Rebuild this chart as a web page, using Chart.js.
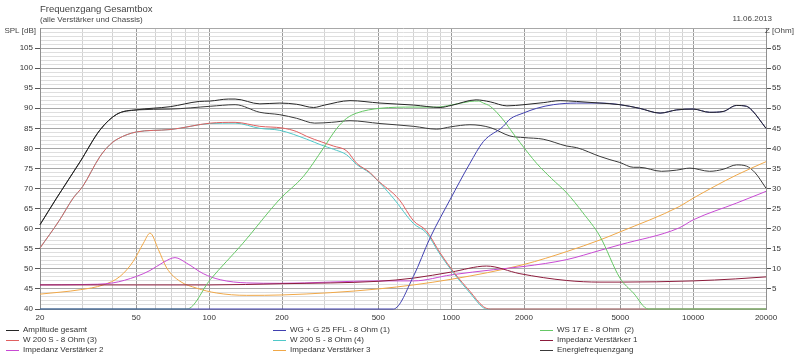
<!DOCTYPE html>
<html>
<head>
<meta charset="utf-8">
<script src="https://cdn.jsdelivr.net/npm/chart.js@4.4.1/dist/chart.umd.min.js"></script>
<style>
  html, body { margin: 0; padding: 0; background: #fff; }
</style>
</head>
<body>
<canvas id="chart" width="800" height="357"></canvas>
<script>
// --- Achsen ---
const freqTicks = [20, 30, 40, 50, 60, 70, 80, 90, 100, 200, 300, 400, 500, 600, 700, 800, 900,
  1000, 2000, 3000, 4000, 5000, 6000, 7000, 8000, 9000, 10000, 20000];
const freqLabels = [20, 50, 100, 200, 500, 1000, 2000, 5000, 10000, 20000];
const splLabels = [40, 45, 50, 55, 60, 65, 70, 75, 80, 85, 90, 95, 100, 105];
const ohmLabels = [5, 10, 15, 20, 25, 30, 35, 40, 45, 50, 55, 60, 65];

// --- Messkurven (Frequenz in Hz, Pegel in dB bzw. Ohm+40 auf der linken Skala) ---
const ampFreq = [20, 23.4, 29.3, 35.4, 41.5, 50, 69, 91, 101, 120, 128, 162, 196, 230, 270, 300, 382, 508, 700, 900,
  1000, 1268, 1450, 1700, 2000, 2400, 2820, 3300, 4120, 4980, 6000, 7300, 8550, 10000, 11700, 13300, 15100, 16600, 17500, 20000];
const ampDb = [61, 67.6, 76.7, 84.6, 88.5, 89.6, 90.4, 91.7, 91.8, 92.3, 92.3, 91.1, 91.3, 91, 90.2, 90.8, 91.9, 91.3, 90.8, 90.2,
  90.7, 92.1, 91.6, 90.6, 90.9, 91.4, 91.9, 91.7, 91.3, 90.9, 90, 88.8, 89.6, 89.8, 89, 89.2, 90.7, 90.5, 89.5, 85];

const wgFreq = [20, 577, 698, 818, 989, 1196, 1358, 1642, 1750, 1986, 2258, 2644, 3303, 4120, 4980, 6000, 7300, 8550, 10000, 11700, 13300, 15100, 16600, 17500, 20000];
const wgDb = [40, 40, 48.1, 57.7, 67.2, 76.3, 81.7, 85.5, 87.3, 88.8, 90, 90.9, 91.3, 91.3, 90.9, 90, 88.8, 89.6, 89.8, 89, 89.2, 90.7, 90.5, 89.5, 85];

const wsFreq = [20, 81, 101, 138, 196, 245, 296, 337, 370, 407, 508, 700, 871, 1000, 1196, 1300, 1358, 1450, 1642, 1801, 1924, 2254, 2600, 3005, 3500, 4120, 4984, 5662, 6530, 20000];
const wsDb = [40, 40, 47.3, 56.4, 67.4, 73, 80, 85, 87.5, 88.8, 90, 90.3, 90.3, 90.8, 91.7, 91.8, 91.3, 90.5, 87.1, 83.8, 81.5, 76.3, 72.5, 68.9, 64, 58.1, 47.7, 44, 40, 40];

const w3Freq = [20, 24, 27.4, 30, 35.4, 39, 42, 50, 69, 101, 128, 162, 200, 230, 253, 292, 326, 370, 407, 462, 494, 611, 698, 789, 900, 1031, 1196, 1358, 1450, 20000];
const w3Db = [55.2, 62, 67.6, 70.5, 78, 81, 82.4, 84.1, 84.7, 86.3, 86.5, 85.5, 85.1, 84.2, 83, 81.6, 80.6, 79.4, 76.3, 74, 72.2, 67.2, 62, 59.5, 54, 49, 44.4, 40.6, 40, 40];

const w4Freq = [20, 24, 27.4, 30, 35.4, 39, 42, 50, 69, 101, 128, 162, 196, 253, 292, 326, 370, 407, 462, 577, 698, 789, 900, 1031, 1196, 1358, 1420, 20000];
const w4Db = [55.2, 62, 67.6, 70.5, 78, 81, 82.4, 84.1, 84.7, 86.2, 86.3, 85, 84.5, 82.3, 80.8, 79.8, 78.4, 76, 73.8, 67.6, 61.3, 59, 53.6, 48.7, 44, 40.3, 40, 40];

const iv1Freq = [20, 100, 200, 500, 700, 1000, 1400, 1924, 3000, 4120, 5000, 10000, 15000, 20000];
const iv1Ohm = [46, 46, 46.3, 46.9, 47.7, 49.2, 50.7, 48.8, 47.1, 46.7, 46.7, 47, 47.5, 48];

const iv2Freq = [20, 30, 40, 50, 57, 64.6, 72.3, 80.8, 94.6, 111, 143, 196, 500, 700, 1000, 1500, 2000, 3000, 4120, 4984, 8750, 10000, 15136, 20000];
const iv2Ohm = [46, 46.1, 46.5, 48.1, 49.6, 51.6, 52.8, 51.4, 48.8, 47.3, 46.5, 46.4, 47, 47, 48.5, 49.8, 50.6, 52.3, 54.6, 56, 60.2, 62.2, 66.4, 69.3];

const iv3Freq = [20, 29.3, 36.5, 42.8, 48.6, 53.5, 57, 61.7, 66.8, 75.8, 88.8, 107, 143, 200, 500, 1000, 2000, 3000, 4120, 4984, 8750, 10000, 15136, 20000];
const iv3Ohm = [43.7, 44.8, 46, 48.1, 51.9, 56.4, 58.9, 54.8, 50.2, 46.9, 45.2, 44, 43.4, 43.5, 45, 47.4, 51.1, 54.3, 57.2, 59.2, 65.5, 67.6, 73.4, 76.7];

const efFreq = [20, 23.4, 29.3, 35.4, 41.5, 50, 69, 101, 128, 162, 196, 230, 273, 320, 382, 508, 700, 871, 1000, 1196, 1450, 1750, 2000, 2400, 3000, 3300,
  4120, 4530, 4980, 5660, 6000, 7400, 8550, 9700, 11700, 13300, 15100, 16600, 18000, 20000];
const efDb = [61, 67.6, 76.7, 84.6, 88.5, 89.6, 89.8, 90.5, 90.9, 89, 88.4, 87.5, 86.3, 86.5, 86.9, 86.2, 85.5, 84.8, 85.4, 85.9, 85.2, 83.1, 82.7, 82.3, 80.6, 80.2,
  78, 77.2, 76.5, 75.3, 75.3, 74.3, 74.6, 75.1, 74.3, 74.8, 75.9, 75.6, 74, 70.1];

const seriesNames = ["Amplitude gesamt", "WG + G 25 FFL - 8 Ohm (1)", "WS 17 E - 8 Ohm  (2)",
  "W 200 S - 8 Ohm (3)", "W 200 S - 8 Ohm (4)", "Impedanz Verstärker 1",
  "Impedanz Verstärker 2", "Impedanz Verstärker 3", "Energiefrequenzgang"];
const seriesColors = ["#262626", "#4040b0", "#66c866", "#e06060", "#50c8c8", "#8c1c3c", "#c84ad4", "#f0a848", "#3a3a3a"];
const seriesFreqs = [ampFreq, wgFreq, wsFreq, w3Freq, w4Freq, iv1Freq, iv2Freq, iv3Freq, efFreq];
const seriesValues = [ampDb, wgDb, wsDb, w3Db, w4Db, iv1Ohm, iv2Ohm, iv3Ohm, efDb];

const FONT = "'Liberation Sans', Arial, sans-serif";

const datasets = seriesNames.map((name, i) => ({
  label: name,
  data: seriesFreqs[i].map((f, k) => ({ x: f, y: seriesValues[i][k] })),
  borderColor: seriesColors[i],
  borderWidth: 1,
  pointRadius: 0,
  cubicInterpolationMode: "monotone",
  clip: 2,
  fill: false
}));

// Titel, Achsentitel und Legende direkt auf das Canvas
const decor = {
  id: "decor",
  afterDraw(chart) {
    const ctx = chart.ctx;
    ctx.save();
    ctx.textBaseline = "middle";
    ctx.fillStyle = "#444";
    ctx.font = "9.5px " + FONT;
    ctx.textAlign = "left";
    ctx.fillText("Frequenzgang Gesamtbox", 40, 9);
    ctx.font = "8px " + FONT;
    ctx.fillText("(alle Verstärker und Chassis)", 40, 19.5);
    ctx.textAlign = "right";
    ctx.fillText("11.06.2013", 772, 18.5);
    ctx.fillText("SPL [dB]", 36, 31);
    ctx.textAlign = "left";
    ctx.fillText("Z [Ohm]", 765, 31);

    // Legende in drei Spalten
    const colX = [6, 273, 540];
    const rowY = [330, 340, 349.5];
    seriesNames.forEach((name, i) => {
      const x = colX[i % 3], y = rowY[Math.floor(i / 3)];
      ctx.strokeStyle = seriesColors[i];
      ctx.lineWidth = 1;
      ctx.beginPath();
      ctx.moveTo(x, Math.round(y) + 0.5);
      ctx.lineTo(x + 13, Math.round(y) + 0.5);
      ctx.stroke();
      ctx.fillStyle = "#333";
      ctx.fillText(name, x + 17, y);
    });
    ctx.restore();
  }
};

new Chart(document.getElementById("chart"), {
  type: "line",
  data: { datasets },
  options: {
    responsive: false,
    animation: false,
    layout: { padding: { top: 28, left: 0, right: 0, bottom: 0 } },
    plugins: { legend: { display: false }, tooltip: { enabled: false } },
    scales: {
      x: {
        type: "logarithmic",
        min: 20,
        max: 20000,
        afterBuildTicks: s => { s.ticks = freqTicks.map(v => ({ value: v })); },
        afterFit: s => { s.height = 48; },
        ticks: {
          autoSkip: false,
          maxRotation: 0,
          padding: 4,
          color: "#333",
          font: { family: FONT, size: 8 },
          callback: v => freqLabels.includes(v) ? String(v) : ""
        },
        grid: {
          drawTicks: false,
          color: c => freqLabels.includes(c.tick.value) ? "#999999" : "#d2d2d2"
        },
        border: { color: "#999999" }
      },
      y: {
        position: "left",
        min: 40,
        max: 110,
        afterBuildTicks: s => {
          const t = [];
          for (let v = 40; v <= 110; v++) t.push({ value: v });
          s.ticks = t;
        },
        afterFit: s => { s.width = 40; },
        ticks: {
          autoSkip: false,
          padding: 2,
          color: "#333",
          font: { family: FONT, size: 8 },
          callback: v => splLabels.includes(v) ? String(v) : ""
        },
        grid: {
          tickLength: 5,
          color: c => c.tick.value % 5 === 0 ? "#a8a8a8" : "#dedede",
          tickColor: c => splLabels.includes(c.tick.value) ? "#555" : "rgba(0,0,0,0)"
        },
        border: { color: "#909090" }
      },
      y2: {
        position: "right",
        min: 0,
        max: 70,
        afterBuildTicks: s => {
          const t = [];
          for (let v = 0; v <= 70; v += 5) t.push({ value: v });
          s.ticks = t;
        },
        afterFit: s => { s.width = 34; },
        ticks: {
          autoSkip: false,
          padding: 1,
          color: "#333",
          font: { family: FONT, size: 8 },
          callback: v => ohmLabels.includes(v) ? String(v) : ""
        },
        grid: {
          drawOnChartArea: false,
          tickLength: 5,
          tickColor: c => ohmLabels.includes(c.tick.value) ? "#555" : "rgba(0,0,0,0)"
        },
        border: { color: "#909090" }
      }
    }
  },
  plugins: [decor]
});
</script>
</body>
</html>
